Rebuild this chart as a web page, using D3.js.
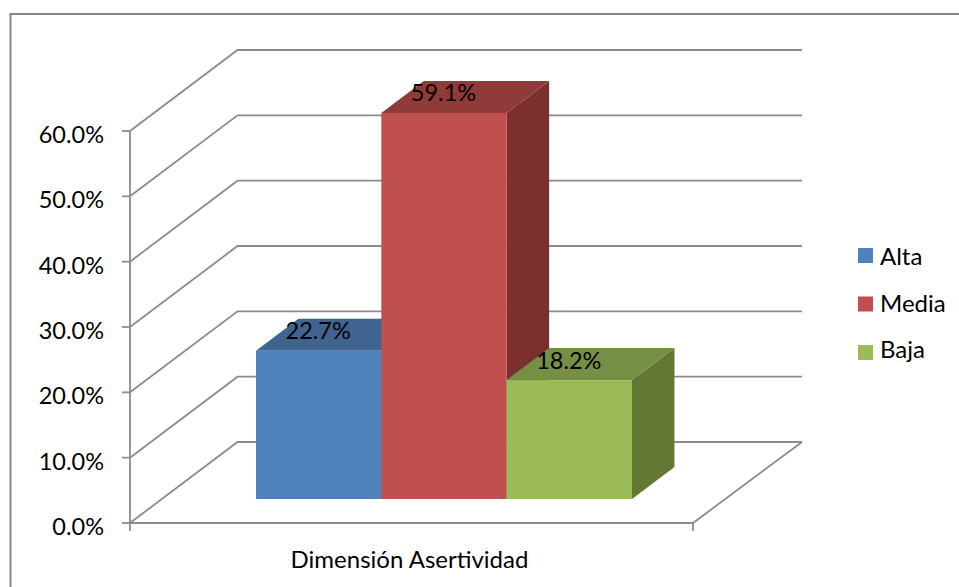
<!DOCTYPE html>
<html><head><meta charset="utf-8">
<script src="https://cdnjs.cloudflare.com/ajax/libs/d3/7.8.5/d3.min.js"></script>
<style>html,body{margin:0;padding:0;background:#fff}svg{display:block}text{font-family:Lato,"Open Sans",sans-serif;fill:#000}</style>
</head><body><svg id="c" width="959" height="587"></svg>
<script>
const series = ["Alta","Media","Baja"];
const values = [22.7,59.1,18.2];
const yTicks = [0,10,20,30,40,50,60];
const category = "Dimensión Asertividad";
const frontColors = ["#4F81BD","#C0504D","#9BBB59"];
const topColors = ["#3F6490","#8F3B39","#778E45"];
const sideColors = ["#34507A","#7B302E","#647836"];

const svg = d3.select("#c");
const y = d3.scaleLinear().domain([0,60]).range([523,131]);
const x = d3.scaleBand().domain(series).range([256,632]);
const cat = d3.scalePoint().domain([0,1]).range([130,693]);
// depth projection: fraction of the floor depth -> screen offset
const dx = d3.scaleLinear().domain([0,1]).range([0,107.5]);
const dy = d3.scaleLinear().domain([0,1]).range([0,-81]);
const grey = "#8c8c8c";

// outer frame
svg.append("path").attr("d","M10.5,587V14H959").attr("fill","none").attr("stroke","#868686").attr("stroke-width",2);

// walls: gridlines
const x0 = cat(0), x1 = cat(1), backX0 = x0+dx(1), backX1 = x1+dx(1)+1.5;
svg.append("g").selectAll("path").data(yTicks).join("path")
  .attr("d",t=>`M${x0},${y(t)}L${backX0},${y(t)+dy(1)}L${backX1},${y(t)+dy(1)}`)
  .attr("fill","none").attr("stroke",grey).attr("stroke-width",1.8);

// floor edges and axes
svg.append("path").attr("d",`M${x0},${y(0)}H${x1}L${backX1},${y(0)+dy(1)}`)
  .attr("fill","none").attr("stroke",grey).attr("stroke-width",1.8);
svg.append("line").attr("x1",x0).attr("x2",x0).attr("y1",y(60)).attr("y2",y(0)+8)
  .attr("stroke",grey).attr("stroke-width",1.8);
svg.append("line").attr("x1",x1).attr("x2",x1).attr("y1",y(0)).attr("y2",y(0)+8)
  .attr("stroke",grey).attr("stroke-width",1.8);
svg.append("g").selectAll("line").data(yTicks).join("line")
  .attr("x1",x0-8).attr("x2",x0).attr("y1",t=>y(t)).attr("y2",t=>y(t))
  .attr("stroke",grey).attr("stroke-width",1.8);

// tick labels
svg.append("g").selectAll("text").data(yTicks).join("text")
  .attr("x",104).attr("y",t=>y(t)+12).attr("text-anchor","end")
  .attr("font-size",23.5).text(t=>t.toFixed(1)+"%");

// bars
const fStart = 24/81, fDepth = 32/81;
const ox = dx(fStart), oy = dy(fStart), bx = dx(fDepth), by = dy(fDepth);
const bw = x.bandwidth();
const bars = series.map((s,i)=>({s,i,v:values[i]}));
const g = svg.append("g");
bars.forEach(d=>{
  const X = x(d.s), T = y(d.v)+oy, B = y(0)+oy, R = X+bw;
  g.append("path").attr("d",`M${R},${T}L${R+bx},${T+by}L${R+bx},${B+by}L${R},${B}Z`).attr("fill",sideColors[d.i]);
  g.append("path").attr("d",`M${X},${T}L${X+bx},${T+by}L${R+bx},${T+by}L${R},${T}Z`).attr("fill",topColors[d.i]);
  g.append("rect").attr("x",X).attr("y",T).attr("width",bw).attr("height",B-T).attr("fill",frontColors[d.i]);
});

// data labels
svg.append("g").selectAll("text").data(bars).join("text")
  .attr("x",d=>x(d.s)+bw/2-0.5).attr("y",d=>y(d.v)+oy-11.5)
  .attr("text-anchor","middle").attr("font-size",23.5).text(d=>d.v.toFixed(1)+"%");

// category label
svg.append("text").attr("x",409.5).attr("y",568).attr("text-anchor","middle").attr("font-size",24).text(category);

// legend
const ly = d3.scalePoint().domain(series).range([248,345]);
const lt = d3.scalePoint().domain(series).range([265,358]);
const lg = svg.append("g").selectAll("g").data(series).join("g");
lg.append("rect").attr("x",858).attr("y",s=>ly(s)).attr("width",15).attr("height",15).attr("fill",(s,i)=>frontColors[i]);
lg.append("text").attr("x",880).attr("y",s=>lt(s)).attr("font-size",24).text(s=>s);
</script></body></html>
